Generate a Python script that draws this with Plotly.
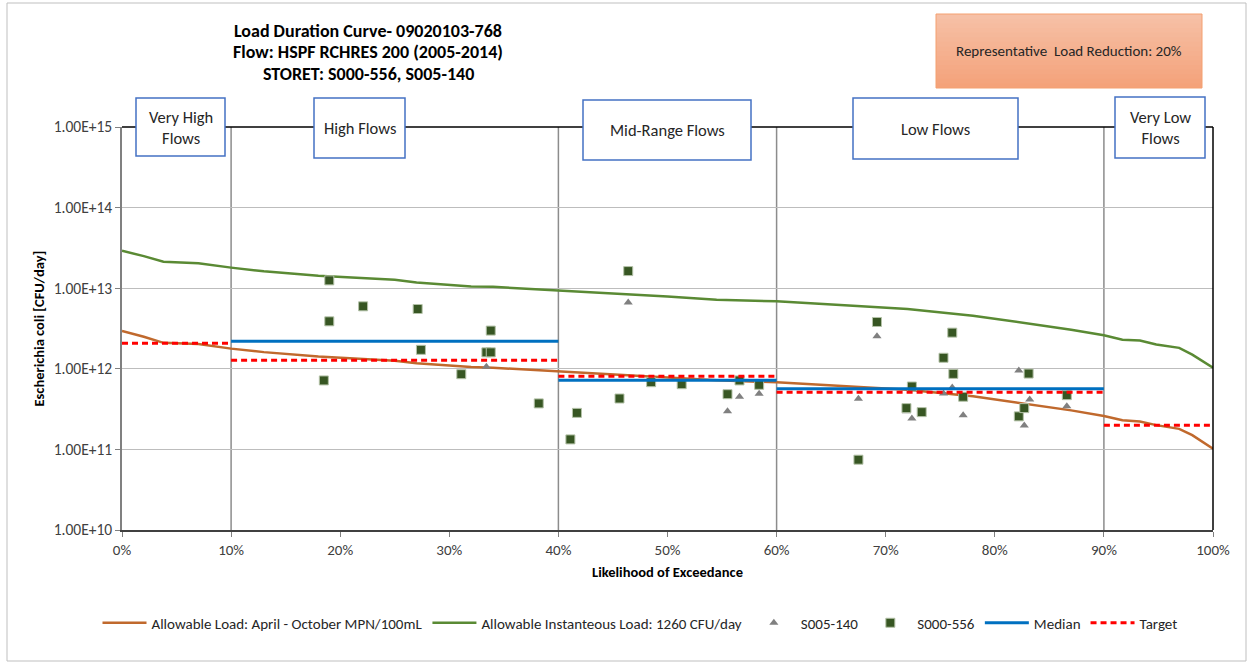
import plotly.graph_objects as go

# Flow-duration percentiles (% of time flow is exceeded)
curve_pct = [0, 2, 3.8, 7, 10, 13, 18, 25, 27, 32, 34, 40, 45, 50, 54.5, 60,
             67, 72, 78, 84, 87, 90, 91.7, 93.3, 94.8, 96.9, 98.1, 100]

# Allowable load curves (CFU/day)
allow_instant = [2.91e13, 2.5e13, 2.13e13, 2.04e13, 1.80e13, 1.62e13, 1.43e13, 1.27e13,
                 1.18e13, 1.05e13, 1.04e13, 9.4e12, 8.6e12, 7.9e12, 7.2e12, 6.87e12,
                 6.07e12, 5.52e12, 4.56e12, 3.53e12, 3.06e12, 2.60e12, 2.30e12, 2.24e12,
                 2.00e12, 1.82e12, 1.50e12, 1.03e12]
allow_season = [2.95e12, 2.5e12, 2.10e12, 2.03e12, 1.78e12, 1.61e12, 1.42e12, 1.26e12,
                1.17e12, 1.05e12, 1.03e12, 9.3e11, 8.6e11, 7.9e11, 7.2e11, 6.8e11,
                6.05e11, 5.5e11, 4.55e11, 3.5e11, 3.05e11, 2.6e11, 2.3e11, 2.22e11,
                2.0e11, 1.8e11, 1.5e11, 1.02e11]

# Station S000-556 samples
s556_pct = [18.5, 19.0, 19.0, 22.1, 27.1, 27.4, 31.1, 33.4, 33.8, 33.8, 38.2, 41.1, 41.7,
            45.6, 46.4, 48.5, 51.3, 55.5, 56.6, 58.4, 67.5, 69.2, 71.9, 72.4, 73.3, 75.3,
            76.1, 76.2, 77.1, 82.2, 82.7, 83.1, 86.6]
s556_load = [7.17e11, 1.25e13, 3.88e12, 5.96e12, 5.52e12, 1.72e12, 8.57e11, 1.60e12,
             1.60e12, 2.98e12, 3.72e11, 1.33e11, 2.84e11, 4.28e11, 1.63e13, 6.82e11,
             6.44e11, 4.84e11, 7.17e11, 6.33e11, 7.45e10, 3.81e12, 3.25e11, 6.03e11,
             2.90e11, 1.37e12, 2.81e12, 8.65e11, 4.50e11, 2.57e11, 3.25e11, 8.73e11, 4.71e11]

# Station S005-140 samples
s140_pct = [33.4, 46.4, 55.5, 56.6, 58.4, 67.5, 69.2, 71.9, 72.4, 75.3, 76.1, 77.1,
            82.2, 82.7, 83.2, 86.6]
s140_load = [1.06e12, 6.67e12, 2.98e11, 4.50e11, 4.90e11, 4.25e11, 2.53e12, 2.98e11,
             2.42e11, 4.93e11, 5.86e11, 2.66e11, 9.51e11, 1.98e11, 4.16e11, 3.44e11]

# Median observed load per flow zone
median_start = [10, 40, 60]
median_end = [40, 60, 90]
median_load = [2.19e12, 7.2e11, 5.64e11]

# Target load per flow zone
target_start = [0, 10, 40, 60, 90]
target_end = [10, 40, 60, 90, 100]
target_load = [2.08e12, 1.28e12, 8.1e11, 5.1e11, 2.0e11]

# Flow zone labels and boundaries
zone_bounds = [10, 40, 60, 90]
zone_labels = ["Very High<br>Flows", "High Flows", "Mid-Range Flows", "Low Flows",
               "Very Low<br>Flows"]

y_tickvals = [1e10, 1e11, 1e12, 1e13, 1e14, 1e15]
y_ticktext = ["1.00E+10", "1.00E+11", "1.00E+12", "1.00E+13", "1.00E+14", "1.00E+15"]
x_tickvals = list(range(0, 101, 10))
x_ticktext = [f"{v}%" for v in x_tickvals]

FONT = "Calibri, Carlito, Lato, sans-serif"
W, H = 1250, 667
ML, MR, MT, MB = 122, 37, 127, 137
PW, PH = W - ML - MR, H - MT - MB


def px_x(p):
    return (p - ML) / PW


def px_y(p):
    return (H - MB - p) / PH


def segments(starts, ends, vals):
    xs, ys = [], []
    for a, b, v in zip(starts, ends, vals):
        xs += [a, b, None]
        ys += [v, v, None]
    return xs, ys


fig = go.Figure()

fig.add_trace(go.Scatter(x=curve_pct, y=allow_season, mode="lines",
                         name="Allowable Load: April - October MPN/100mL",
                         line=dict(color="#C0692D", width=2.5)))
fig.add_trace(go.Scatter(x=curve_pct, y=allow_instant, mode="lines",
                         name="Allowable Instanteous Load: 1260 CFU/day",
                         line=dict(color="#5A8A34", width=2.5)))
fig.add_trace(go.Scatter(x=s140_pct, y=s140_load, mode="markers", name="S005-140",
                         marker=dict(symbol="triangle-up", size=8, color="#808080")))
fig.add_trace(go.Scatter(x=s556_pct, y=s556_load, mode="markers", name="S000-556",
                         marker=dict(symbol="square", size=9, color="#375623",
                                     line=dict(color="#B4C2A8", width=1))))
mx, my = segments(median_start, median_end, median_load)
fig.add_trace(go.Scatter(x=mx, y=my, mode="lines", name="Median",
                         line=dict(color="#0070C0", width=3)))
tx, ty = segments(target_start, target_end, target_load)
fig.add_trace(go.Scatter(x=tx, y=ty, mode="lines", name="Target",
                         line=dict(color="#FF0000", width=3, dash="6px,4px")))

shapes = []
# zone boundaries
for b in zone_bounds:
    shapes.append(dict(type="line", xref="x", yref="paper", x0=b, x1=b, y0=0, y1=1,
                       line=dict(color="#8C8C8C", width=1.5), layer="below"))
# top and right frame
shapes.append(dict(type="line", xref="paper", yref="paper", x0=0, x1=1, y0=1, y1=1,
                   line=dict(color="#000000", width=1.5), layer="below"))
shapes.append(dict(type="line", xref="paper", yref="paper", x0=1, x1=1, y0=0, y1=1,
                   line=dict(color="#000000", width=1.5), layer="above"))
# outer chart border
shapes.append(dict(type="rect", xref="paper", yref="paper",
                   x0=px_x(7), x1=px_x(1246), y0=px_y(3), y1=px_y(661),
                   line=dict(color="#BFBFBF", width=1), layer="below"))

# flow zone label boxes (pixel extents)
zone_boxes = [(136, 225, 98, 156), (314, 405, 98, 158), (583, 751, 100, 160),
              (853, 1018, 98, 159), (1115, 1205, 97, 158)]
annotations = []
for (x0, x1, y0, y1), lab in zip(zone_boxes, zone_labels):
    shapes.append(dict(type="rect", xref="paper", yref="paper",
                       x0=px_x(x0), x1=px_x(x1), y0=px_y(y1), y1=px_y(y0),
                       fillcolor="#FFFFFF", line=dict(color="#4472C4", width=1.5),
                       layer="above"))
    annotations.append(dict(xref="paper", yref="paper", x=px_x((x0 + x1) / 2),
                            y=px_y((y0 + y1) / 2), text=lab, showarrow=False,
                            font=dict(family=FONT, size=16.5, color="#262626"),
                            xanchor="center", yanchor="middle"))

# load reduction callout, shaded top to bottom with overlapping bands
bx0, bx1, by0, by1 = 936, 1202, 14, 88
bands = 16
top_rgb, bot_rgb = (246, 192, 166), (244, 162, 122)
for i in range(bands):
    t = i / (bands - 1)
    c = tuple(round(top_rgb[k] + (bot_rgb[k] - top_rgb[k]) * t) for k in range(3))
    ya = by0 + (by1 - by0) * i / bands
    shapes.append(dict(type="rect", xref="paper", yref="paper",
                       x0=px_x(bx0), x1=px_x(bx1), y0=px_y(by1), y1=px_y(ya),
                       fillcolor="rgb(%d,%d,%d)" % c, line=dict(width=0), layer="above"))
shapes.append(dict(type="rect", xref="paper", yref="paper",
                   x0=px_x(bx0), x1=px_x(bx1), y0=px_y(by1), y1=px_y(by0),
                   line=dict(color="#F4A070", width=1), layer="above"))
annotations.append(dict(xref="paper", yref="paper", x=px_x((bx0 + bx1) / 2),
                        y=px_y((by0 + by1) / 2),
                        text="Representative&nbsp; Load Reduction: 20%",
                        showarrow=False, font=dict(family=FONT, size=15, color="#262626"),
                        xanchor="center", yanchor="middle"))

# chart title
title_lines = ["Load Duration Curve- 09020103-768", "Flow: HSPF RCHRES 200 (2005-2014)",
               "STORET: S000-556, S005-140"]
for line, yy in zip(title_lines, [31, 52, 74]):
    annotations.append(dict(xref="paper", yref="paper", x=px_x(368), y=px_y(yy),
                            text=f"<b>{line}</b>", showarrow=False,
                            font=dict(family=FONT, size=18, color="#000000"),
                            xanchor="center", yanchor="middle"))

# y axis title
annotations.append(dict(xref="paper", yref="paper", x=px_x(38), y=0.5,
                        text="<b>Escherichia coli [CFU/day]</b>", textangle=-90,
                        showarrow=False, font=dict(family=FONT, size=14.5, color="#000000"),
                        xanchor="center", yanchor="middle"))

# x axis title
annotations.append(dict(xref="paper", yref="paper", x=0.5, y=px_y(572),
                        text="<b>Likelihood of Exceedance</b>",
                        showarrow=False, font=dict(family=FONT, size=14.5, color="#000000"),
                        xanchor="center", yanchor="middle"))

fig.update_layout(
    width=W, height=H, autosize=False,
    margin=dict(l=ML, r=MR, t=MT, b=MB, pad=0),
    paper_bgcolor="#FFFFFF", plot_bgcolor="#FFFFFF",
    font=dict(family=FONT, size=14, color="#404040"),
    showlegend=True,
    legend=dict(orientation="h", x=px_x(640), xanchor="center", y=px_y(623),
                yanchor="middle", font=dict(family=FONT, size=15, color="#262626"),
                bgcolor="rgba(0,0,0,0)", itemwidth=44),
    shapes=shapes,
    annotations=annotations,
    hovermode=False,
)
fig.update_xaxes(range=[0, 100], tickvals=x_tickvals, ticktext=x_ticktext,
                 showgrid=False, zeroline=False, showline=True, linecolor="#404040",
                 linewidth=1.5, ticks="outside", ticklen=5, tickcolor="#808080",
                 tickfont=dict(family=FONT, size=15, color="#404040"))
fig.update_yaxes(type="log", range=[10, 15], tickvals=y_tickvals, ticktext=y_ticktext,
                 showgrid=True, gridcolor="#BDBDBD", gridwidth=1.2, zeroline=False,
                 showline=True, linecolor="#808080", linewidth=1.5, ticks="outside",
                 ticklen=5, tickcolor="#808080",
                 tickfont=dict(family=FONT, size=15.5, color="#404040"))

fig.write_html("out.html")
